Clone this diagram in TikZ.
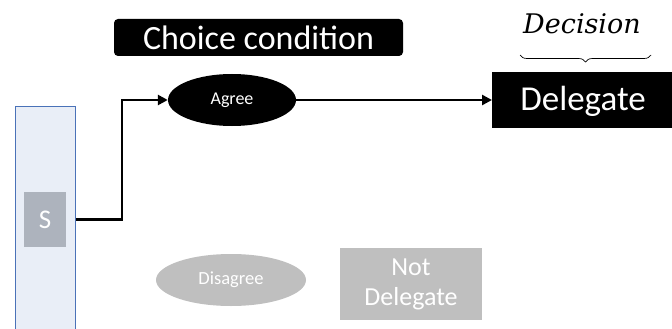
\documentclass[tikz,border=0pt]{standalone}
\usepackage{fontspec}
\setmainfont{Carlito}
\newfontfamily\decfont{DejaVu Serif}
\usetikzlibrary{shapes.geometric,decorations.pathreplacing,arrows.meta}
\definecolor{panelfill}{HTML}{E9EEF7}
\definecolor{paneldraw}{HTML}{4A72B8}
\definecolor{sgray}{HTML}{ADB3BD}
\definecolor{lgray}{HTML}{BFBFBF}
\tikzset{
  blackbox/.style={fill=black, text=white, inner sep=0pt},
  conn/.style={line width=2.6pt, -{Triangle[length=10pt,width=10pt]}},
}
\begin{document}
\begin{tikzpicture}[x=1pt,y=-1pt]
\useasboundingbox (0,0) rectangle (672,329);
\clip (0,0) rectangle (672,329);
% side panel
\node[draw=paneldraw, fill=panelfill, line width=0.8pt, minimum width=60pt, minimum height=240pt, anchor=north west, inner sep=0pt] (panel) at (15,106) {};
\node[fill=sgray, text=white, minimum width=42pt, minimum height=55pt, inner sep=0pt, font=\fontsize{27}{30}\selectfont] (s) at (45,219.5) {S};
% choice condition
\node[blackbox, rounded corners=4pt, minimum width=289pt, minimum height=37pt, font=\fontsize{34}{38}\selectfont] (choice) at (258.5,37.5) {Choice condition};
% agree
\node[ellipse, blackbox, minimum width=128pt, minimum height=52pt, font=\fontsize{18}{20}\selectfont] (agree) at (232,100) {Agree};
% delegate
\node[blackbox, minimum width=190pt, minimum height=56pt, anchor=west] (deleg) at (492,100) {};
\node[text=white, font=\fontsize{35}{40}\selectfont] (delegtxt) at (583,101) {Delegate};
% decision
\node[font=\decfont\itshape\fontsize{27}{30}\selectfont] (decision) at (582,24) {Decision};
\draw[line width=0.7pt, decorate, decoration={brace, mirror, amplitude=7pt}] (520,55) -- (651,55);
% disagree / not delegate
\node[ellipse, fill=lgray, text=white, minimum width=150pt, minimum height=52pt, inner sep=0pt, font=\fontsize{18.5}{20}\selectfont] (disagree) at (231,280) {Disagree};
\node[fill=lgray, text=white, minimum width=142pt, minimum height=72pt, inner sep=0pt, align=center, font=\fontsize{26}{30}\selectfont] (notdel) at (411,284) {Not\\Delegate};
% connectors
\draw[conn] (panel.east |- s) -| (122,100) -- (agree.west);
\draw[conn] (agree.east) -- (deleg.west);
\end{tikzpicture}
\end{document}
